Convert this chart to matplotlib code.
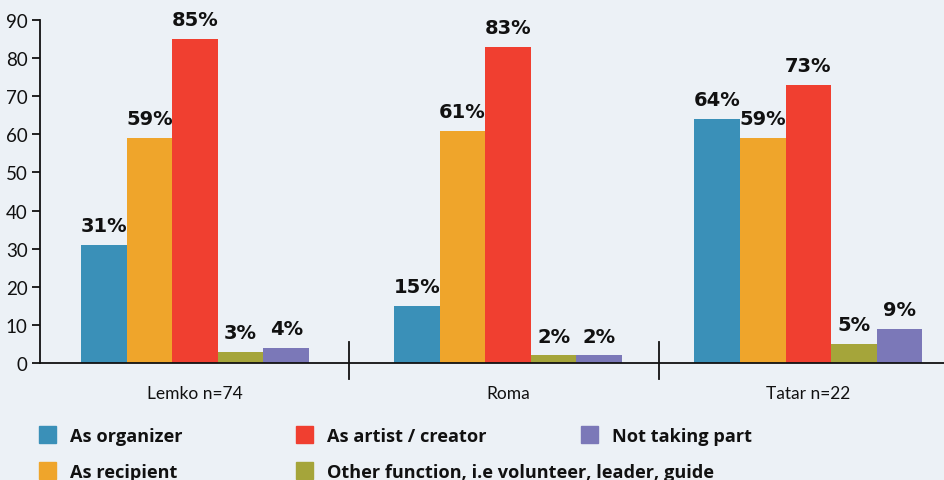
import matplotlib.pyplot as plt
import matplotlib.transforms as mtransforms
from matplotlib.patches import Rectangle
import numpy as np

# Participation by role, per community (%)
groups = ["Lemko n=74", "Roma", "Tatar n=22"]
roles = ["As organizer", "As recipient", "As artist / creator",
         "Other function, i.e volunteer, leader, guide", "Not taking part"]
organizer = [31, 15, 64]
recipient = [59, 61, 59]
artist = [85, 83, 73]
other = [3, 2, 5]
not_taking_part = [4, 2, 9]

series = [organizer, recipient, artist, other, not_taking_part]
colors = ["#3a90b8", "#efa52b", "#f03f30", "#a5a53a", "#7b78b8"]
bg = "#ecf1f6"

plt.rcParams["font.family"] = ["Lato", "DejaVu Sans"]

fig = plt.figure(figsize=(9.44, 4.81), dpi=100, facecolor=bg)
ax = fig.add_axes([40 / 944, 1 - 364 / 481, 1 - 40 / 944, 343 / 481])
ax.set_facecolor(bg)

centers = np.array([0.0, 1.0, 1.96])
width = 0.1457
offsets = (np.arange(len(series)) - 2) * width

for vals, off, col in zip(series, offsets, colors):
    bars = ax.bar(centers + off, vals, width=width, color=col, linewidth=0)
    for b, v in zip(bars, vals):
        ax.annotate(f"{v}%", (b.get_x() + b.get_width() / 2, v),
                    xytext=(0, 7), textcoords="offset points",
                    ha="center", va="bottom", fontsize=14,
                    fontweight="bold", family="DejaVu Sans", color="#111111")

ax.set_xlim(-0.495, 2.393)
ax.set_ylim(0, 90)
ax.set_yticks(range(0, 91, 10))
ax.set_xticks(centers)
ax.set_xticklabels(groups)

for side in ["top", "right"]:
    ax.spines[side].set_visible(False)
for side in ["left", "bottom"]:
    ax.spines[side].set_linewidth(1.3)
    ax.spines[side].set_color("#111111")

ax.tick_params(axis="y", length=6, width=1.3, labelsize=13.5, pad=3, colors="#111111")
ax.tick_params(axis="x", length=0, labelsize=12.5, pad=16, colors="#111111")

# group separators crossing the baseline
trans = mtransforms.blended_transform_factory(ax.transData, ax.transAxes)
for s in [0.492, 1.482]:
    ax.plot([s, s], [-0.047, 0.061], transform=trans, color="#111111",
            linewidth=1.3, clip_on=False)

# legend drawn by hand in figure pixels (x of swatch, text baseline)
W, H = 944, 481
legend_pos = [(39, 442), (39, 478), (296, 442), (296, 478), (581, 442)]
for (x, y), label, col in zip(legend_pos, roles, colors):
    fig.patches.append(Rectangle((x / W, 1 - (y + 2) / H), 17 / W, 17 / H,
                                 transform=fig.transFigure, color=col))
    fig.text((x + 31) / W, 1 - y / H, label, ha="left", va="baseline",
             fontsize=13.1, fontweight="bold", family="Open Sans",
             color="#111111")

fig.savefig("out.png", dpi=100, facecolor=bg)
